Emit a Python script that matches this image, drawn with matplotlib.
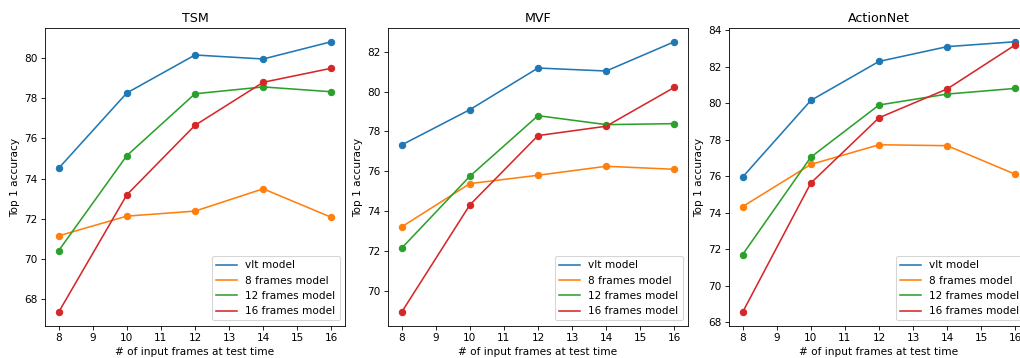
"""
Top-1 accuracy vs number of input frames at test time for TSM, MVF and ActionNet.
"""

import matplotlib
matplotlib.use('Agg')
import matplotlib.pyplot as plt


# x axis: number of input frames at test time
frames = [8, 10, 12, 14, 16]

series_labels = ['vlt model', '8 frames model', '12 frames model', '16 frames model']

# TSM
tsm_vlt = [74.51, 78.26, 80.15, 79.95, 80.81]
tsm_8 = [71.15, 72.13, 72.38, 73.49, 72.07]
tsm_12 = [70.41, 75.14, 78.22, 78.56, 78.32]
tsm_16 = [67.35, 73.19, 76.65, 78.79, 79.49]

# MVF
mvf_vlt = [77.32, 79.09, 81.18, 81.03, 82.50]
mvf_8 = [73.21, 75.38, 75.80, 76.25, 76.10]
mvf_12 = [72.14, 75.75, 78.79, 78.34, 78.39]
mvf_16 = [68.93, 74.31, 77.79, 78.26, 80.21]

# ActionNet
actionnet_vlt = [75.96, 80.16, 82.30, 83.11, 83.38]
actionnet_8 = [74.34, 76.65, 77.73, 77.68, 76.11]
actionnet_12 = [71.71, 77.05, 79.91, 80.51, 80.82]
actionnet_16 = [68.55, 75.63, 79.21, 80.79, 83.21]

titles = ['TSM', 'MVF', 'ActionNet']


def plot_panel(ax, title, all_series):
    """One subplot: a line per model plus markers on top."""
    for label, values in zip(series_labels, all_series):
        line, = ax.plot(frames, values, label=label)
        ax.scatter(frames, values, color=line.get_color())
    ax.set_title(title)
    ax.set_xlabel('# of input frames at test time')
    ax.set_ylabel('Top 1 accuracy')
    ax.legend(loc='lower right')


def main():
    dpi = 76
    fig = plt.figure(figsize=(1020 / dpi, 358 / dpi), dpi=dpi)

    # the original figure was cut on the right, so the last panel runs past the edge
    width = 300 / 1020
    height = 297.5 / 358
    bottom = 32.3 / 358
    lefts = [45 / 1020, 388 / 1020, 729 / 1020]

    panels = [
        [tsm_vlt, tsm_8, tsm_12, tsm_16],
        [mvf_vlt, mvf_8, mvf_12, mvf_16],
        [actionnet_vlt, actionnet_8, actionnet_12, actionnet_16],
    ]

    for left, title, all_series in zip(lefts, titles, panels):
        ax = fig.add_axes([left, bottom, width, height])
        plot_panel(ax, title, all_series)

    fig.savefig('out.png', dpi=dpi)


if __name__ == "__main__":
    main()
